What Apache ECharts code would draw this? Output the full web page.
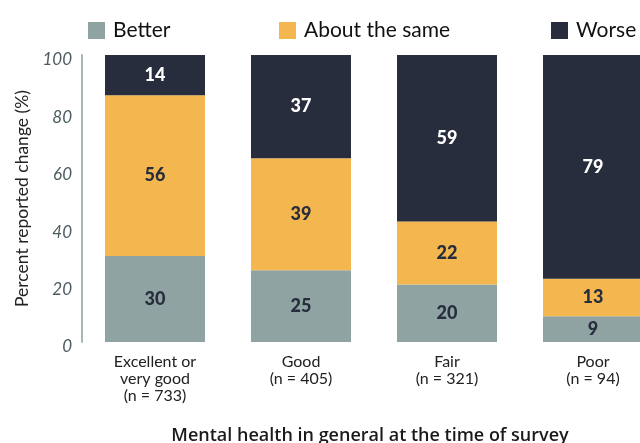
<!DOCTYPE html>
<html><head><meta charset="utf-8">
<script src="https://cdn.jsdelivr.net/npm/echarts@6/dist/echarts.min.js"></script>
<style>html,body{margin:0;padding:0;background:#fff}#c{width:640px;height:443px}</style>
</head><body><div id="c"></div>
<script>
const categories = ['Excellent or\nvery good\n(n = 733)', 'Good\n(n = 405)', 'Fair\n(n = 321)', 'Poor\n(n = 94)'];
const better = [30, 25, 20, 9];
const aboutSame = [56, 39, 22, 13];
const worse = [14, 37, 59, 79];
const yTicks = [0, 20, 40, 60, 80, 100];

const colors = {better: '#8fa3a3', same: '#f4b74f', worse: '#272d3d'};
const font = 'Lato';
const chart = echarts.init(document.getElementById('c'));
function mkSeries(name, data, color, labelColor) {
  return {
    name, type: 'bar', stack: 'all', data, barWidth: 100,
    itemStyle: {color},
    label: {show: true, position: 'inside', color: labelColor, fontFamily: font, fontWeight: 900, fontSize: 18}
  };
}
const legendBase = {top: 15, itemWidth: 17, itemHeight: 17, itemGap: 10, icon: 'rect',
  textStyle: {fontFamily: font, fontSize: 21, color: '#111', padding: [0, 0, 0, 3]}};
chart.setOption({
  animation: false,
  legend: [
    Object.assign({}, legendBase, {left: 83, data: ['Better']}),
    Object.assign({}, legendBase, {left: 274, data: ['About the same']}),
    Object.assign({}, legendBase, {left: 546, data: ['Worse']})
  ],
  grid: {left: 82, right: -26, top: 55, bottom: 101, outerBoundsMode: 'none', containLabel: false},
  xAxis: {
    type: 'category', data: categories,
    axisLine: {show: false}, axisTick: {show: false},
    axisLabel: {margin: 11, fontFamily: font, fontSize: 16, color: '#222', lineHeight: 17},
    name: 'Mental health in general at the time of survey', nameLocation: 'middle', nameGap: 85,
    nameTextStyle: {fontFamily: 'Open Sans', fontWeight: 600, fontSize: 18, color: '#1a1a1a', padding: [0, 8, 0, 0]}
  },
  yAxis: {
    type: 'value', min: 0, max: 100, interval: 20,
    name: 'Percent reported change (%)', nameLocation: 'middle', nameGap: 51,
    nameTextStyle: {fontFamily: font, fontSize: 17.5, color: '#222'},
    axisLine: {show: true, lineStyle: {color: '#a7b6b6', width: 2}},
    axisTick: {show: false}, splitLine: {show: false},
    axisLabel: {margin: 10,
      formatter: v => yTicks.includes(v) ? '{t|' + v + '}' : '',
      rich: {t: {fontFamily: font, fontSize: 17, fontStyle: 'italic', color: '#4b5b5f', padding: [10, 0, 0, 0]}}}
  },
  series: [
    mkSeries('Better', better, colors.better, colors.worse),
    mkSeries('About the same', aboutSame, colors.same, colors.worse),
    mkSeries('Worse', worse, colors.worse, '#ffffff')
  ]
});
</script></body></html>
